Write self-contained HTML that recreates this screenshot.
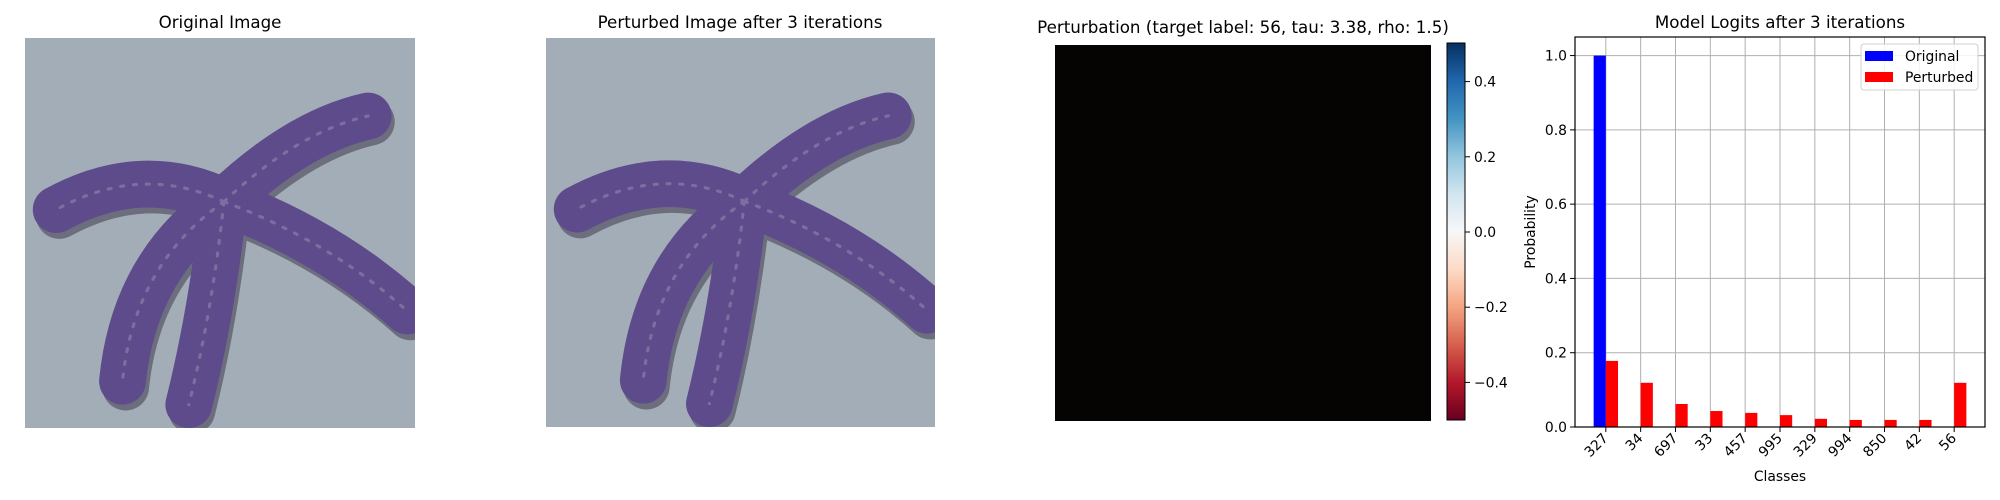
<!DOCTYPE html>
<html><head><meta charset="utf-8"><style>
html,body{margin:0;padding:0;background:#fff;}
svg{display:block;font-family:"DejaVu Sans","Liberation Sans",sans-serif;}
</style></head><body>
<svg id="fig" width="2000" height="500" viewBox="0 0 2000 500">
<defs>
<clipPath id="imgclip"><rect x="0" y="0" width="100" height="100"/></clipPath>
<g id="star">
<g clip-path="url(#imgclip)">
<rect x="0" y="0" width="100" height="100" fill="#a3adb7"/>
<g stroke="#2b2438" stroke-linecap="round" fill="none" stroke-width="12" opacity="0.45" transform="translate(0.8,1.5)">
<path d="M51 42 Q30 32 8 44"/><path d="M51 42 Q70 24 88 20"/><path d="M51 42 Q78 52 98 70"/><path d="M51 42 Q28 58 25 88"/><path d="M51 42 Q48 70 42 94"/></g>
<g stroke="#5d4b8b" stroke-linecap="round" fill="none" stroke-width="12">
<path d="M51 42 Q30 32 8 44"/><path d="M51 42 Q70 24 88 20"/><path d="M51 42 Q78 52 98 70"/><path d="M51 42 Q28 58 25 88"/><path d="M51 42 Q48 70 42 94"/></g>
<g stroke="#9585ad" stroke-linecap="round" fill="none" stroke-width="0.8" stroke-dasharray="0.8 2.5" opacity="0.6">
<path d="M51 42 Q30 32 8 44"/><path d="M51 42 Q70 24 88 20"/><path d="M51 42 Q78 52 98 70"/><path d="M51 42 Q28 58 25 88"/><path d="M51 42 Q48 70 42 94"/></g>
</g>
</g>
<linearGradient id="cb" x1="0" y1="1" x2="0" y2="0">
<stop offset="0" stop-color="#67001f"/><stop offset="0.1" stop-color="#b2182b"/><stop offset="0.2" stop-color="#d6604d"/><stop offset="0.3" stop-color="#f4a582"/><stop offset="0.4" stop-color="#fddbc7"/><stop offset="0.5" stop-color="#f7f7f7"/><stop offset="0.6" stop-color="#d1e5f0"/><stop offset="0.7" stop-color="#92c5de"/><stop offset="0.8" stop-color="#4393c3"/><stop offset="0.9" stop-color="#2166ac"/><stop offset="1" stop-color="#053061"/>
</linearGradient>
</defs>

<text x="220" y="28" font-size="16.7" text-anchor="middle">Original Image</text>
<g transform="translate(25,38) scale(3.9)"><use href="#star"/></g>

<text x="740" y="28" font-size="16.7" text-anchor="middle">Perturbed Image after 3 iterations</text>
<g transform="translate(546,38) scale(3.89)"><use href="#star"/></g>

<text x="1243" y="33" font-size="16.7" text-anchor="middle">Perturbation (target label: 56, tau: 3.38, rho: 1.5)</text>
<rect x="1055" y="45" width="376" height="376" fill="#060303"/>
<g>
<rect x="1447" y="43" width="18" height="377" fill="url(#cb)" stroke="#000" stroke-width="1"/>
<g id="cbticks" font-size="13.9"></g>
</g>

<g id="chart"></g>
</svg>
<script>
const categories = ["327","34","697","33","457","995","329","994","850","42","56"];
const originalValues = [1.0,0,0,0,0,0,0,0,0,0,0];
const perturbedValues = [0.178,0.119,0.062,0.043,0.038,0.032,0.022,0.019,0.019,0.019,0.119];
const yTicks = [0.0,0.2,0.4,0.6,0.8,1.0];
const cbTicks = [-0.4,-0.2,0.0,0.2,0.4];

const NS="http://www.w3.org/2000/svg";
function mk(tag,attrs,parent){const e=document.createElementNS(NS,tag);for(const k in attrs)e.setAttribute(k,attrs[k]);parent.appendChild(e);return e;}
function fmt(v){return (v<0?"\u2212":"")+Math.abs(v).toFixed(1);}

const cbg=document.getElementById('cbticks');
const cbY=v=>232-v*376;
cbTicks.forEach(v=>{
  const y=cbY(v);
  const t=mk('line',{x1:1465,x2:1470,y1:y,y2:y,stroke:'#000'},cbg);
  
  
  const l=mk('text',{x:1474,y:y+5,'font-size':13.9},cbg);
  
  
  l.textContent=fmt(v);
});

const g=document.getElementById('chart');
const L=1575,R=1985,T=37,B=427;
const xmin=-0.885,xmax=categories.length-1+0.885;
const X=i=>L+(i-xmin)/(xmax-xmin)*(R-L);
const Y=v=>B-v/1.05*(B-T);
const bw=0.35*(R-L)/(xmax-xmin);
categories.forEach((c,i)=>{
  const gl=mk('line',{x1:X(i),x2:X(i),y1:T,y2:B,stroke:'#b0b0b0','stroke-width':1},g);
  
  
});
yTicks.forEach(v=>{
  const gl=mk('line',{x1:L,x2:R,y1:Y(v),y2:Y(v),stroke:'#b0b0b0','stroke-width':1},g);
  
  
});
categories.forEach((c,i)=>{
  const b1=mk('rect',{x:X(i)-bw,y:Y(originalValues[i]),width:bw,height:B-Y(originalValues[i]),fill:'#0000ff'},g);
  
  
  const b2=mk('rect',{x:X(i),y:Y(perturbedValues[i]),width:bw,height:B-Y(perturbedValues[i]),fill:'#ff0000'},g);
  
  
});
const fr=mk('rect',{x:L,y:T,width:R-L,height:B-T,fill:'none',stroke:'#000','stroke-width':1.2},g);


yTicks.forEach(v=>{
  const y=Y(v);
  const t=mk('line',{x1:L-5,x2:L,y1:y,y2:y,stroke:'#000'},g);
  
  
  const l=mk('text',{x:L-8,y:y+5,'font-size':13.9,'text-anchor':'end'},g);
  
  
  l.textContent=v.toFixed(1);
});
categories.forEach((c,i)=>{
  const x=X(i);
  const t=mk('line',{x1:x,x2:x,y1:B,y2:B+5,stroke:'#000'},g);
  
  
  const l=mk('text',{x:x+3,y:B+12,'font-size':13.9,'text-anchor':'end',transform:`rotate(-45 ${x+3} ${B+12})`},g);
  
  
  l.textContent=c;
});
const xt=mk('text',{x:(L+R)/2,y:481,'font-size':13.9,'text-anchor':'middle'},g);


xt.textContent='Classes';
const yt=mk('text',{x:0,y:0,'font-size':13.9,'text-anchor':'middle',transform:`translate(1535 ${(T+B)/2}) rotate(-90)`},g);


yt.textContent='Probability';
const ti=mk('text',{x:(L+R)/2,y:28,'font-size':16.7,'text-anchor':'middle'},g);


ti.textContent='Model Logits after 3 iterations';
const lg=mk('g',{},g);


mk('rect',{x:1861,y:44,width:117,height:46,rx:3,fill:'#fff','fill-opacity':0.85,stroke:'#d0d0d0'},lg);
[['Original','#0000ff',51],['Perturbed','#ff0000',72]].forEach(([n,col,y])=>{
  const p=mk('rect',{x:1865,y:y,width:28,height:10,fill:col},lg);
  
  
  const tx=mk('text',{x:1905,y:y+10,'font-size':13.9},lg);
  
  
  tx.textContent=n;
});
</script>
</body></html>
